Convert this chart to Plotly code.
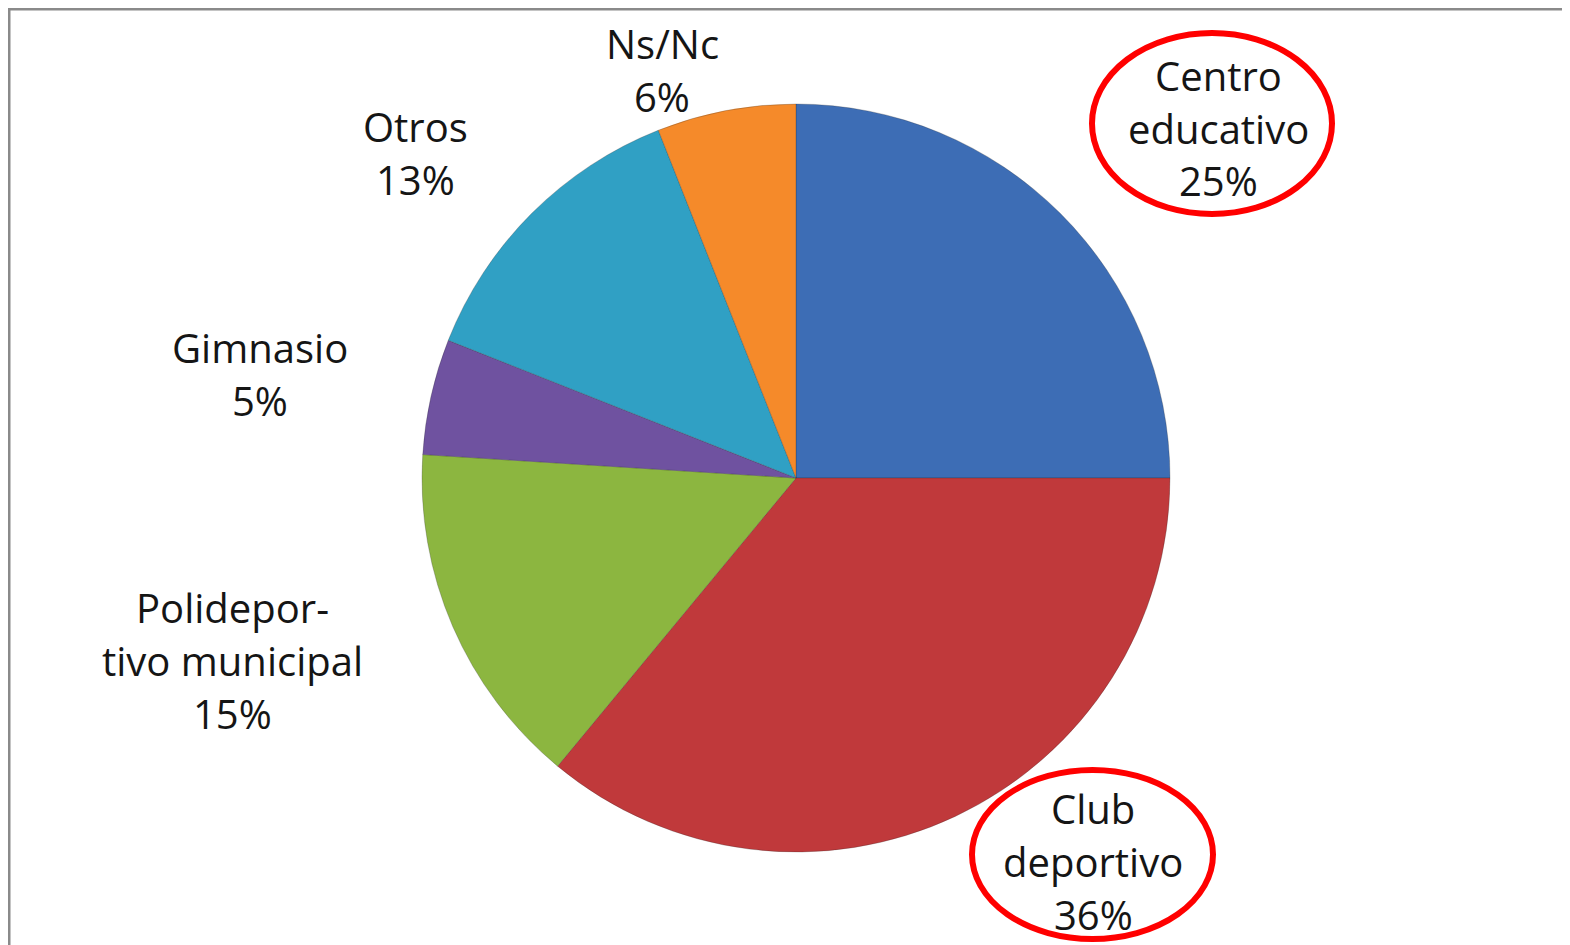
import plotly.graph_objects as go

# Data
categories = ["Centro educativo", "Club deportivo", "Polideportivo municipal",
              "Gimnasio", "Otros", "Ns/Nc"]
values = [25, 36, 15, 5, 13, 6]
label_lines = [["Centro", "educativo"], ["Club", "deportivo"],
               ["Polidepor-", "tivo municipal"], ["Gimnasio"], ["Otros"], ["Ns/Nc"]]
colors = ["#3D6DB5", "#C0393B", "#8CB640", "#6F52A0", "#30A0C4", "#F58A2A"]

W, H = 1570, 945
OFF = 8  # page body margin

def px(x):
    return (x - OFF) / W

def py(y):
    return 1 - (y - OFF) / H

# label block centres (pixels) and line spacing
label_pos = [(1218, 128), (1093, 861), (232, 660), (260, 374), (415, 153), (662, 70)]
line_gap = 53

# Pie geometry
cx, cy, r = 796, 478, 374

fig = go.Figure()
fig.add_trace(go.Pie(
    labels=categories, values=values, sort=False, direction="clockwise",
    rotation=0, textinfo="none", hoverinfo="label+percent",
    marker=dict(colors=colors, line=dict(color="rgba(40,40,40,0.25)", width=1)),
    domain=dict(x=[px(cx - r), px(cx + r)], y=[py(cy + r), py(cy - r)]),
    showlegend=False,
))

total = sum(values)
annotations = []
for lines, v, (lx, ly) in zip(label_lines, values, label_pos):
    txt = lines + [f"{round(100 * v / total)}%"]
    n = len(txt)
    for i, t in enumerate(txt):
        y = ly + (i - (n - 1) / 2) * line_gap
        annotations.append(dict(
            x=px(lx), y=py(y), xref="paper", yref="paper", text=t,
            showarrow=False, xanchor="center", yanchor="middle",
            font=dict(family="Open Sans", size=40, color="#151515")))

shapes = [
    # frame
    dict(type="rect", xref="paper", yref="paper", x0=px(9), x1=1.02, y0=-0.02, y1=py(9),
         line=dict(color="#8a8a8a", width=3), fillcolor="rgba(0,0,0,0)", layer="below"),
    # highlight ellipses
    dict(type="circle", xref="paper", yref="paper", x0=px(1092), x1=px(1332),
         y0=py(214), y1=py(33), line=dict(color="#FF0000", width=6)),
    dict(type="circle", xref="paper", yref="paper", x0=px(972), x1=px(1213),
         y0=py(939), y1=py(770), line=dict(color="#FF0000", width=6)),
]

fig.update_layout(
    width=W, height=H, margin=dict(l=0, r=0, t=0, b=0),
    paper_bgcolor="white", plot_bgcolor="white",
    annotations=annotations, shapes=shapes,
)

fig.write_html("out.html")
